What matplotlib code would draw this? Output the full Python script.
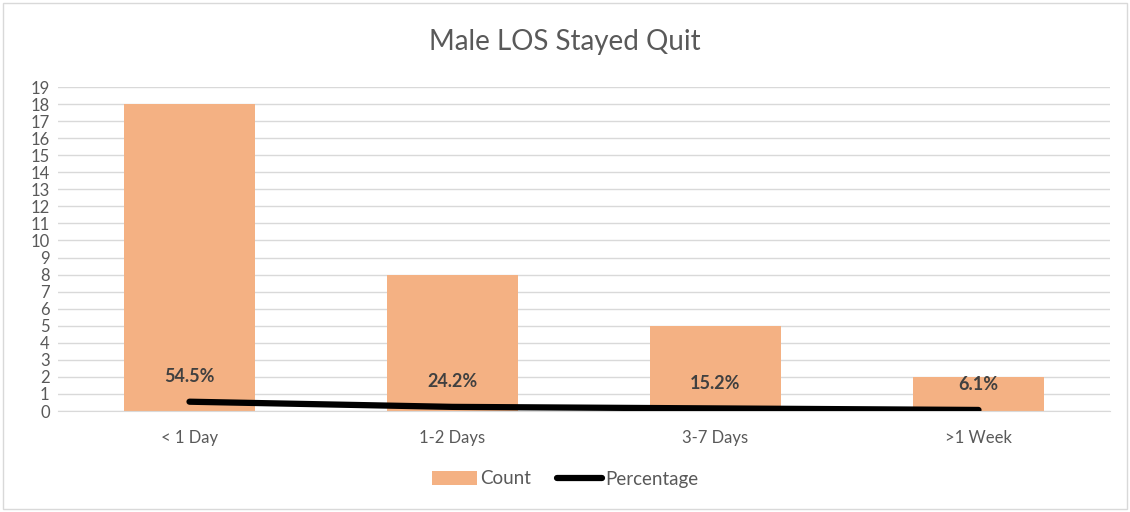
"""Male LOS Stayed Quit - count bars with percentage line (Excel style)."""

import matplotlib
matplotlib.use("Agg")
import matplotlib.pyplot as plt
from matplotlib.patches import Rectangle

CATEGORIES = ["< 1 Day", "1-2 Days", "3-7 Days", ">1 Week"]
COUNTS = [18, 8, 5, 2]
PERCENTS = [0.545, 0.242, 0.152, 0.061]
PCT_LABELS = ["54.5%", "24.2%", "15.2%", "6.1%"]
Y_TICKS = list(range(0, 20))

BAR_COLOR = "#F4B183"
TEXT_COLOR = "#595959"
GRID_COLOR = "#D9D9D9"

plt.rcParams.update({
    "font.family": ["Lato", "DejaVu Sans"],
    "text.color": TEXT_COLOR,
})

fig = plt.figure(figsize=(11.3, 5.12), dpi=100)
ax = fig.add_axes([58 / 1130, 1 - 411 / 512, (1110 - 58) / 1130, (411 - 87) / 512])

x = list(range(len(CATEGORIES)))
bars = ax.bar(x, COUNTS, width=0.5, color=BAR_COLOR, zorder=2, label="Count")
line, = ax.plot(x, PERCENTS, color="black", lw=4.5, solid_capstyle="round", zorder=3,
                label="Percentage")
for xi, p, lab in zip(x, PERCENTS, PCT_LABELS):
    ax.annotate(lab, (xi, p), xytext=(0, 12), textcoords="offset points",
                ha="center", va="bottom", fontsize=13, fontweight="bold",
                color="#404040", zorder=4)

ax.set_xlim(-0.5, len(CATEGORIES) - 0.5)
ax.set_ylim(0, 19)
ax.set_yticks(Y_TICKS)
ax.set_xticks(x)
ax.set_xticklabels(CATEGORIES)
ax.tick_params(axis="both", length=0, labelsize=12, colors=TEXT_COLOR)
ax.tick_params(axis="x", pad=14)
ax.tick_params(axis="y", pad=6)
ax.grid(axis="y", color=GRID_COLOR, lw=1, zorder=0)
ax.set_axisbelow(True)
for side in ["top", "right", "left"]:
    ax.spines[side].set_visible(False)
ax.spines["bottom"].set_color(GRID_COLOR)

fig.text(0.5, 1 - 42 / 512, "Male LOS Stayed Quit", ha="center", va="center",
         fontsize=20, color=TEXT_COLOR)

fig.legend([bars, line], ["Count", "Percentage"], loc="center",
           bbox_to_anchor=(0.5, 1 - 479 / 512), ncol=2,
           frameon=False, fontsize=13.5, handlelength=2.4, handletextpad=0.15,
           columnspacing=1.4, labelcolor=TEXT_COLOR)

fig.patches.append(Rectangle((3 / 1130, 3 / 512), 1 - 6 / 1130, 1 - 6 / 512,
                             transform=fig.transFigure, fill=False,
                             edgecolor=GRID_COLOR, lw=1))

fig.savefig("out.png", dpi=100, facecolor="white")
